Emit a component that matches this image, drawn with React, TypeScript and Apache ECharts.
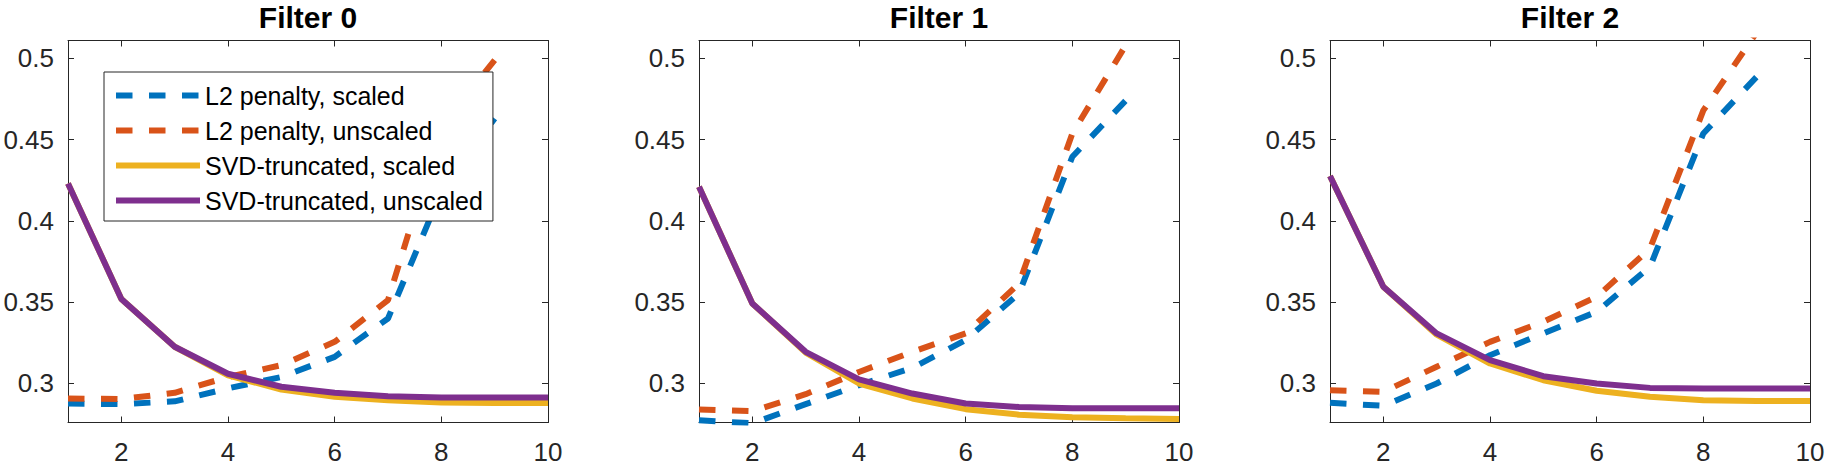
import React, { useEffect, useRef } from "react";
import * as echarts from "echarts";

// ---- data ----
const xValues = [1, 2, 3, 4, 5, 6, 7, 8, 9, 10];
const seriesNames = [
  "L2 penalty, scaled",
  "L2 penalty, unscaled",
  "SVD-truncated, scaled",
  "SVD-truncated, unscaled",
];
const panelTitles = ["Filter 0", "Filter 1", "Filter 2"];
const yTickValues = [0.3, 0.35, 0.4, 0.45, 0.5];
const xTickValues = [2, 4, 6, 8, 10];

// Filter 0
const l2Scaled0 = [0.2877, 0.2873, 0.289, 0.297, 0.304, 0.3164, 0.34, 0.418, 0.463];
const l2Unscaled0 = [0.2908, 0.2904, 0.2943, 0.304, 0.3113, 0.3256, 0.3513, 0.458, 0.499];
const svdScaled0 = [0.423, 0.352, 0.3226, 0.305, 0.2963, 0.2918, 0.2897, 0.2883, 0.288, 0.288];
const svdUnscaled0 = [0.423, 0.352, 0.3226, 0.306, 0.298, 0.2943, 0.2922, 0.2914, 0.2914, 0.2914];

// Filter 1
const l2Scaled1 = [0.2774, 0.2755, 0.2873, 0.299, 0.3096, 0.3267, 0.3554, 0.4395, 0.474];
const l2Unscaled1 = [0.284, 0.283, 0.2934, 0.3071, 0.3195, 0.3308, 0.3615, 0.4538, 0.508];
const svdScaled1 = [0.421, 0.3492, 0.319, 0.3, 0.2908, 0.2842, 0.2808, 0.2792, 0.2786, 0.2782];
const svdUnscaled1 = [0.421, 0.3492, 0.3195, 0.3025, 0.2938, 0.2877, 0.2855, 0.2848, 0.2848, 0.2848];

// Filter 2
const l2Scaled2 = [0.2881, 0.2863, 0.3, 0.3174, 0.3308, 0.3441, 0.3718, 0.4538, 0.4887];
const l2Unscaled2 = [0.2959, 0.2949, 0.3103, 0.3256, 0.338, 0.3533, 0.383, 0.468, 0.516];
const svdScaled2 = [0.4276, 0.3595, 0.33, 0.3123, 0.302, 0.2955, 0.2918, 0.2897, 0.2893, 0.2893];
const svdUnscaled2 = [0.4276, 0.3595, 0.3308, 0.3144, 0.3045, 0.3, 0.2973, 0.2969, 0.2969, 0.2969];

const panels = [
  [l2Scaled0, l2Unscaled0, svdScaled0, svdUnscaled0],
  [l2Scaled1, l2Unscaled1, svdScaled1, svdUnscaled1],
  [l2Scaled2, l2Unscaled2, svdScaled2, svdUnscaled2],
];

const Y_MIN = 0.276;
const Y_MAX = 0.511;
const X_MIN = 1;
const X_MAX = 10;

const colors = ["#0072BD", "#D95319", "#EDB120", "#7E2F8E"];
const dashPattern = [16.5, 16.5];
const lineTypes: any[] = [dashPattern, dashPattern, "solid", "solid"];
const FONT = "Liberation Sans";
const AXIS_COLOR = "#262626";

const GRID_LEFTS = [68, 699, 1330];
const GRID_TOP = 40.5;
const GRID_W = 480;
const GRID_H = 382;

function near(v: number, list: number[]) {
  return list.some((t) => Math.abs(t - v) < 1e-6);
}

export default function App() {
  const ref = useRef<HTMLDivElement>(null);

  useEffect(() => {
    if (!ref.current) return;
    const chart = echarts.init(ref.current, undefined, { renderer: "svg" });

    const grids: any[] = [];
    const xAxes: any[] = [];
    const yAxes: any[] = [];
    const series: any[] = [];
    const graphics: any[] = [];

    const axisLine = { show: true, onZero: false, lineStyle: { color: AXIS_COLOR, width: 1 } };
    const axisTick = { show: true, inside: true, length: 6, lineStyle: { color: AXIS_COLOR, width: 1 } };

    panels.forEach((panel, i) => {
      grids.push({ left: GRID_LEFTS[i], top: GRID_TOP, width: GRID_W, height: GRID_H, containLabel: false });
      xAxes.push({
        type: "value",
        gridIndex: i,
        position: "bottom",
        min: X_MIN,
        max: X_MAX,
        axisLine,
        axisTick,
        splitLine: { show: false },
        axisLabel: {
          show: true,
          margin: 16,
          fontSize: 26,
          fontFamily: FONT,
          color: AXIS_COLOR,
          showMinLabel: false,
          formatter: (v: number) => (near(v, xTickValues) ? String(v) : ""),
        },
      });
      xAxes.push({
        type: "value",
        gridIndex: i,
        position: "top",
        min: X_MIN,
        max: X_MAX,
        axisLine,
        axisTick,
        splitLine: { show: false },
        axisLabel: { show: false },
      });
      yAxes.push({
        type: "value",
        gridIndex: i,
        position: "left",
        min: Y_MIN,
        max: Y_MAX,
        axisLine,
        axisTick,
        splitLine: { show: false },
        axisLabel: {
          show: true,
          margin: 14,
          fontSize: 26,
          fontFamily: FONT,
          color: AXIS_COLOR,
          showMinLabel: false,
          showMaxLabel: false,
          formatter: (v: number) => (near(v, yTickValues) ? String(+v.toFixed(2)) : ""),
        },
      });
      yAxes.push({
        type: "value",
        gridIndex: i,
        position: "right",
        min: Y_MIN,
        max: Y_MAX,
        axisLine,
        axisTick,
        splitLine: { show: false },
        axisLabel: { show: false },
      });

      panel.forEach((vals, k) => {
        series.push({
          type: "line",
          name: seriesNames[k],
          xAxisIndex: 2 * i,
          yAxisIndex: 2 * i,
          data: vals.map((v, j) => [xValues[j], v]),
          symbol: "none",
          showSymbol: false,
          clip: true,
          silent: true,
          z: 2 + k,
          itemStyle: { color: colors[k] },
          lineStyle: { color: colors[k], width: 6, type: lineTypes[k], cap: "butt" },
          emphasis: { disabled: true },
        });
      });

      graphics.push({
        type: "text",
        x: GRID_LEFTS[i] + GRID_W / 2,
        y: 2,
        style: {
          text: panelTitles[i],
          fontFamily: FONT,
          fontWeight: "bold",
          fontSize: 30,
          fill: "#000",
          align: "center",
          verticalAlign: "top",
        },
      });
    });

    chart.setOption({
      animation: false,
      backgroundColor: "#fff",
      grid: grids,
      xAxis: xAxes,
      yAxis: yAxes,
      series,
      graphic: graphics,
      legend: {
        data: seriesNames,
        orient: "vertical",
        left: 104,
        top: 72,
        padding: [11, 10, 8, 9],
        itemWidth: 84,
        itemHeight: 24,
        itemGap: 10,
        backgroundColor: "#fff",
        borderColor: AXIS_COLOR,
        borderWidth: 1,
        borderRadius: 0,
        selectedMode: false,
        z: 10,
        itemStyle: { color: "transparent", borderWidth: 0, opacity: 0 },
        lineStyle: { width: 6, opacity: 1 },
        textStyle: { fontSize: 25, fontFamily: FONT, color: "#000", lineHeight: 24 },
      },
    });

    return () => chart.dispose();
  }, []);

  return (
    <div
      ref={ref}
      style={{ position: "fixed", left: 0, top: 0, width: 1828, height: 469, background: "#fff" }}
    />
  );
}
